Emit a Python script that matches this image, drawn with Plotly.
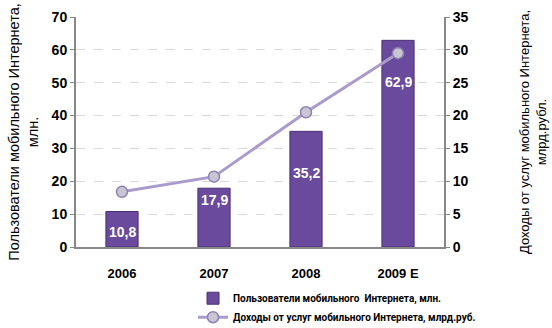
import plotly.graph_objects as go

categories = ["2006", "2007", "2008", "2009 E"]
users_mln = [10.8, 17.9, 35.2, 62.9]
revenue_bln_rub = [8.4, 10.7, 20.5, 29.5]
bar_labels = ["10,8", "17,9", "35,2", "62,9"]
label_y = [4.6, 14.3, 22.5, 50.2]

font_fam = "Liberation Sans, Arial, sans-serif"
font_leg = "Roboto, Liberation Sans, Arial, sans-serif"

fig = go.Figure()
fig.add_trace(go.Bar(
    x=categories, y=users_mln, name="Пользователи мобильного  Интернета, млн.",
    marker=dict(color="#6A4A9C", line=dict(color="#4B3275", width=1)),
    width=0.35, yaxis="y",
))
fig.add_trace(go.Scatter(
    x=categories, y=revenue_bln_rub, name="Доходы от услуг мобильного Интернета, млрд.руб.",
    mode="lines+markers", yaxis="y2",
    line=dict(color="#A99CCB", width=3),
    marker=dict(symbol="circle", size=11, color="#C9C6D2", line=dict(color="#8E80B5", width=1.5)),
))
for i, (t, yy) in enumerate(zip(bar_labels, label_y)):
    fig.add_annotation(x=i, y=yy, text=t, showarrow=False,
                       font=dict(color="white", size=14, family=font_fam, weight="bold"),
                       xref="x", yref="y")

fig.update_layout(
    width=552, height=328,
    margin=dict(l=76, r=108, t=17, b=81),
    paper_bgcolor="white", plot_bgcolor="white",
    font=dict(family=font_fam, size=12, color="#000"),
    showlegend=True,
    legend=dict(x=0.318, y=0.135, xref="paper", yref="container", xanchor="left", yanchor="top",
                bgcolor="rgba(0,0,0,0)",
                font=dict(size=10, family=font_leg, weight="bold"), tracegroupgap=0, itemwidth=30),
    xaxis=dict(type="category", range=[-0.5, 3.5], showline=True, linecolor="#888", linewidth=2,
               tickfont=dict(size=13, family=font_fam, weight="bold"),
               ticks="outside", ticklen=13, tickcolor="rgba(0,0,0,0)", showgrid=False,
               automargin=False),
    yaxis=dict(range=[0, 70], dtick=10, showline=True, linecolor="#888", linewidth=2,
               ticks="outside", ticklen=4, tickcolor="#888",
               gridcolor="#D9D9D9", griddash="dash", gridwidth=1, zeroline=False,
               tickfont=dict(size=14, family=font_fam, weight="bold"), automargin=False,
               title=dict(text="Пользователи мобильного Интернета,<br>млн.",
                          font=dict(size=14.5, family=font_fam), standoff=10)),
    yaxis2=dict(range=[0, 35], dtick=5, overlaying="y", side="right", showline=True, linecolor="#888",
                linewidth=2, ticks="outside", ticklen=4, tickcolor="#888", showgrid=False, zeroline=False,
                tickfont=dict(size=14, family=font_fam, weight="bold"), automargin=False,
                title=dict(text="Доходы от услуг мобильного Интернета,<br>млрд.рубл.",
                           font=dict(size=13, family=font_fam), standoff=52)),
)
fig.write_html("out.html")
